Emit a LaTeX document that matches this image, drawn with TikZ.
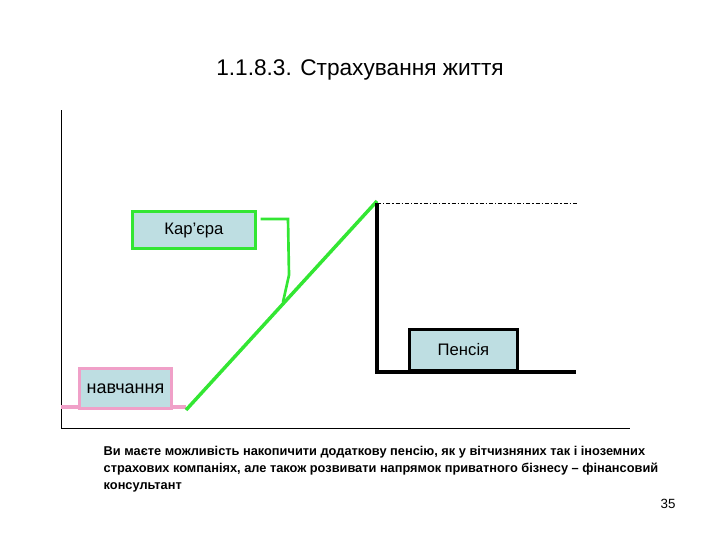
\documentclass[tikz,border=0pt]{standalone}
\usepackage{fontspec}
\setmainfont{Liberation Sans}
\definecolor{gr}{RGB}{51,230,51}
\definecolor{pk}{RGB}{240,160,200}
\definecolor{bx}{RGB}{190,222,226}
\begin{document}
\begin{tikzpicture}[x=0.75pt,y=-0.75pt,
  lbl/.style={draw,line width=2.2pt,fill=bx,inner sep=0pt,font=\fontsize{12.5}{14}\selectfont},
  gline/.style={gr,line width=2.6pt},
  kline/.style={black,line width=2.6pt}]
\useasboundingbox (0,0) rectangle (720,540);
\node[font=\fontsize{17}{20}\selectfont] (title) at (360,70) {1.1.8.3. Страхування життя};
\coordinate (ya) at (61,110); \coordinate (o) at (61,428); \coordinate (xa) at (630,428);
\draw[line width=0.6pt] (ya) -- (o) -- (xa);
% pink
\coordinate (p0) at (61,407); \coordinate (p1) at (186,407);
\draw[pk,line width=2.6pt] (p0) -- (p1);
\node[lbl,draw=pk,minimum width=69pt,minimum height=30pt,anchor=north west,font=\fontsize{13.5}{15}\selectfont] (nav) at (78,367) {навчання};
% green
\coordinate (g0) at (186,410); \coordinate (g1) at (377,201);
\draw[gline] (g0) -- (g1);
\node[lbl,draw=gr,minimum width=92pt,minimum height=28pt,anchor=north west] (kar) at (131,210) {Кар’єра};
\coordinate (c1) at (288,219); \coordinate (c2) at (289,275); \coordinate (c3) at (283,302);
\draw[gr,line width=2pt] ([xshift=3pt]kar.east|-c1) -- (c1) -- (c2) -- (c3);
% black
\coordinate (k0) at (377,203); \coordinate (k1) at (377,372); \coordinate (k2) at (576,372);
\draw[kline] (k0) -- (k1) -- (k2);
\draw[line width=0.6pt,dash pattern=on 3pt off 1.5pt on 1pt off 1.5pt] (k0) -- (577,203);
\node[lbl,draw=black,minimum width=81pt,minimum height=31pt,anchor=south west] (pen) at (408,372) {Пенсія};
\node[anchor=north west,align=left,font=\bfseries\fontsize{9.6}{12.6}\selectfont] (txt) at (99,442)
{Ви маєте можливість накопичити додаткову пенсію, як у вітчизняних так і іноземних\\
страхових компаніях, але також розвивати напрямок приватного бізнесу – фінансовий\\
консультант};
\node[font=\fontsize{10}{12}\selectfont] (num) at (668,504) {35};
\end{tikzpicture}
\end{document}
